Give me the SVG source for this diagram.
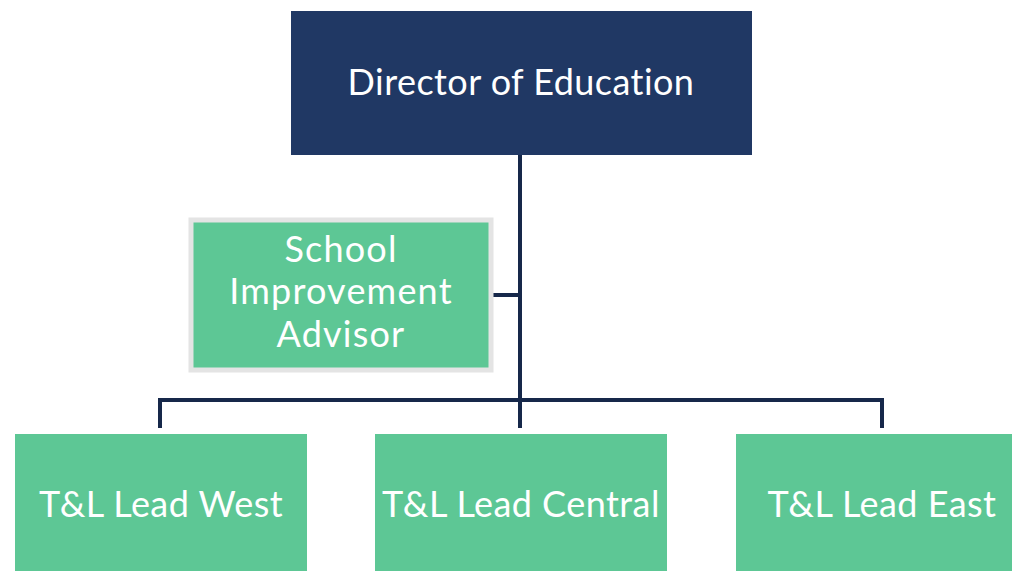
<svg xmlns="http://www.w3.org/2000/svg" width="1012" height="571" viewBox="0 0 1012 571">
  <style>
    .lbl { font-family: Lato, "Open Sans", "Liberation Sans", sans-serif; fill: #ffffff; text-anchor: middle; font-size: 36px; letter-spacing: 0.45px; }
    .sia { letter-spacing: 1.2px; }
    .lead { fill: #5dc795; }
    .wire { stroke: #16284a; stroke-width: 4; fill: none; }
  </style>
  <rect width="1012" height="571" fill="#ffffff"/>

  <g id="connectors">
    <path class="wire" d="M520 155 V400"/>
    <path class="wire" d="M488 295 H520"/>
    <path class="wire" d="M160 428 V400 H882 V428"/>
    <path class="wire" d="M520 400 V428"/>
  </g>

  <g id="director">
    <rect x="291" y="11" width="461" height="144" fill="#203864"/>
    <text class="lbl" x="521" y="95">Director of Education</text>
  </g>

  <g id="advisor">
    <rect x="191" y="220" width="300" height="150" fill="#5dc795" stroke="#e4e4e4" stroke-width="5"/>
    <text class="lbl sia" x="341" y="262">School</text>
    <text class="lbl sia" x="341" y="304">Improvement</text>
    <text class="lbl sia" x="341" y="347">Advisor</text>
  </g>

  <g id="lead-west">
    <rect class="lead" x="15" y="434" width="292" height="145"/>
    <text class="lbl" x="161" y="517">T&amp;L Lead West</text>
  </g>

  <g id="lead-central">
    <rect class="lead" x="375" y="434" width="292" height="145"/>
    <text class="lbl" x="521" y="517">T&amp;L Lead Central</text>
  </g>

  <g id="lead-east">
    <rect class="lead" x="736" y="434" width="292" height="145"/>
    <text class="lbl" x="882" y="517">T&amp;L Lead East</text>
  </g>
</svg>
